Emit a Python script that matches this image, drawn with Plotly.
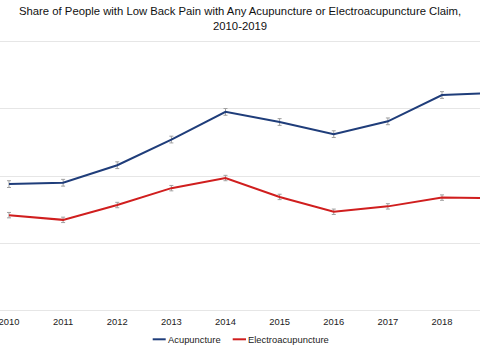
import plotly.graph_objects as go

years = [2010, 2011, 2012, 2013, 2014, 2015, 2016, 2017, 2018, 2019]
acupuncture = [1.88, 1.90, 2.16, 2.54, 2.95, 2.80, 2.62, 2.81, 3.20, 3.23]
electro = [1.42, 1.35, 1.57, 1.82, 1.97, 1.69, 1.47, 1.55, 1.68, 1.67]
acu_err = [0.05] * 10
ele_err = [0.04] * 10
tick_years = [2010, 2011, 2012, 2013, 2014, 2015, 2016, 2017, 2018]
series_names = ["Acupuncture", "Electroacupuncture"]
series_colors = ["#1f3d7a", "#d01e1e"]

fig = go.Figure()
fig.add_trace(go.Scatter(
    x=years, y=acupuncture, mode="lines", name=series_names[0],
    line=dict(color=series_colors[0], width=2),
    error_y=dict(type="data", array=acu_err, color="#a0a0a0", thickness=1, width=2),
))
fig.add_trace(go.Scatter(
    x=years, y=electro, mode="lines", name=series_names[1],
    line=dict(color=series_colors[1], width=2),
    error_y=dict(type="data", array=ele_err, color="#a0a0a0", thickness=1, width=2),
))

H_PLOT = 272.0
def py(px):
    # pixel from top -> paper y
    return (312 - px) / H_PLOT

fig.update_layout(
    width=480, height=353,
    margin=dict(l=0, r=0, t=40, b=41),
    paper_bgcolor="white", plot_bgcolor="white",
    font=dict(family="Liberation Sans, Arial", color="#222"),
    showlegend=False,
)

# title
fig.add_annotation(
    text="Share of People with Low Back Pain with Any Acupuncture or Electroacupuncture Claim,<br>2010-2019",
    xref="paper", yref="paper", x=0.5, y=py(18.7), xanchor="center", yanchor="middle",
    showarrow=False, font=dict(size=11.3, color="#111"), align="center",
)

# legend (manual)
legend_items = [(152.7, 165.7, 167), (232.7, 246, 247)]
for (x0, x1, tx), name, col in zip(legend_items, series_names, series_colors):
    fig.add_shape(type="line", xref="paper", yref="paper",
                  x0=x0 / 480, x1=x1 / 480, y0=py(339.3), y1=py(339.3),
                  line=dict(color=col, width=2))
    fig.add_annotation(text=name, xref="paper", yref="paper", x=tx / 480, y=py(339),
                       xanchor="left", yanchor="middle", showarrow=False,
                       font=dict(size=9.4, color="#222"), xshift=-1)

fig.update_xaxes(
    range=[2009.834, 2018.702], tickvals=tick_years, ticktext=[str(y) for y in tick_years],
    showgrid=False, zeroline=False, showline=False, automargin=False,
    tickfont=dict(size=9.4, color="#222"), ticks="", ticklabeloverflow="allow",
    ticklabelstandoff=3,
)
fig.update_yaxes(
    range=[-0.015, 4.015], dtick=1, showgrid=True, gridcolor="#e6e6e6", gridwidth=1,
    zeroline=True, zerolinecolor="#e6e6e6", zerolinewidth=1,
    showticklabels=False, automargin=False, showline=False,
)

fig.write_html("out.html")
